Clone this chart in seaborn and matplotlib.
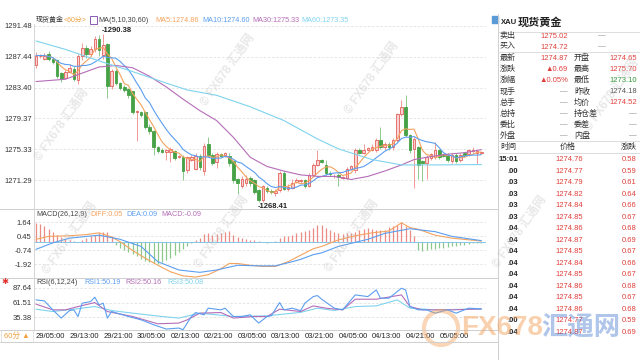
import numpy as np
import pandas as pd
import seaborn as sns
import matplotlib.pyplot as plt
from matplotlib.patches import Rectangle, Ellipse
from matplotlib.lines import Line2D

# 60 min bars of spot gold, first bar = 29/05:00
opens = [1286.3, 1287.5, 1287.2, 1287.8, 1287.1, 1287.0, 1285.3, 1284.7, 1285.5, 1285.9,
         1284.4, 1287.6, 1288.6, 1287.8, 1288.4, 1289.7, 1287.7, 1289.1, 1283.6, 1285.6,
         1284.0, 1283.5, 1283.2, 1282.9, 1280.2, 1280.2, 1280.2, 1278.3, 1277.7, 1275.6,
         1275.3, 1275.0, 1275.0, 1275.1, 1274.35, 1274.4, 1272.6, 1274.0, 1272.8, 1274.5,
         1272.5, 1276.0, 1274.6, 1273.7, 1274.7, 1274.6, 1274.5, 1273.8, 1271.4, 1270.5,
         1270.9, 1271.6, 1271.3, 1270.0, 1268.7, 1270.3, 1269.9, 1269.6, 1270.0, 1272.3,
         1270.1, 1270.3, 1271.1, 1271.2, 1271.3, 1270.6, 1272.0, 1273.3, 1273.9, 1273.3,
         1272.3, 1271.8, 1272.0, 1271.6, 1271.6, 1272.8, 1272.6, 1275.3, 1274.9, 1275.3,
         1275.3, 1275.2, 1276.5, 1275.6, 1276.0, 1275.6, 1276.5, 1279.9, 1280.9, 1277.2,
         1275.4, 1275.6, 1273.8, 1273.6, 1274.2, 1274.3, 1275.2, 1274.7, 1274.6, 1273.8,
         1274.6, 1273.9, 1274.8, 1274.7, 1275.1, 1274.9, 1274.85]
highs = [1288.0, 1287.8, 1287.9, 1288.2, 1287.3, 1287.1, 1285.5, 1285.7, 1286.5, 1286.2,
         1287.8, 1289.3, 1289.0, 1288.9, 1290.1, 1290.3, 1290.38, 1289.3, 1285.9, 1285.8,
         1284.2, 1283.7, 1283.4, 1283.0, 1280.5, 1280.4, 1280.4, 1278.7, 1277.9, 1275.8,
         1275.5, 1275.4, 1275.6, 1275.3, 1274.6, 1274.6, 1274.5, 1274.6, 1274.8, 1274.7,
         1276.2, 1277.0, 1274.8, 1275.0, 1274.9, 1275.0, 1274.8, 1274.0, 1271.6, 1271.8,
         1272.0, 1271.8, 1271.5, 1270.2, 1270.7, 1270.5, 1270.1, 1270.2, 1272.5, 1272.5,
         1270.8, 1271.4, 1271.6, 1271.5, 1271.5, 1272.2, 1273.6, 1275.2, 1274.1, 1273.9,
         1272.5, 1272.1, 1272.2, 1271.9, 1273.0, 1273.3, 1275.5, 1275.5, 1276.0, 1275.7,
         1276.1, 1276.8, 1278.3, 1276.3, 1276.3, 1276.8, 1280.1, 1281.8, 1282.4, 1277.4,
         1276.9, 1275.8, 1274.0, 1274.6, 1274.9, 1276.3, 1275.4, 1274.9, 1274.8, 1274.8,
         1274.8, 1274.8, 1275.0, 1275.4, 1275.6, 1275.3, 1275.0]
lows = [1286.0, 1287.3, 1287.0, 1286.9, 1286.5, 1284.6, 1284.1, 1284.5, 1285.3, 1284.3,
        1283.9, 1287.0, 1287.3, 1287.5, 1288.0, 1287.5, 1287.2, 1282.0, 1283.2, 1283.8,
        1283.1, 1282.8, 1282.1, 1280.0, 1276.4, 1279.5, 1278.0, 1277.4, 1274.6, 1274.8,
        1274.8, 1274.0, 1273.7, 1274.0, 1274.2, 1271.3, 1272.3, 1273.8, 1272.6, 1272.7,
        1272.0, 1274.3, 1273.3, 1272.9, 1274.3, 1274.4, 1273.2, 1271.0, 1269.5, 1270.3,
        1270.6, 1270.6, 1269.5, 1268.41, 1268.5, 1269.6, 1269.5, 1269.3, 1269.8, 1270.0,
        1269.9, 1270.1, 1270.9, 1271.0, 1270.3, 1270.4, 1271.8, 1273.1, 1273.5, 1272.0,
        1271.9, 1271.6, 1270.6, 1271.4, 1271.4, 1272.6, 1272.3, 1274.7, 1274.7, 1275.1,
        1275.1, 1275.0, 1275.4, 1275.3, 1275.3, 1275.2, 1276.3, 1279.7, 1277.0, 1274.9,
        1270.3, 1271.4, 1271.2, 1271.5, 1274.0, 1274.1, 1274.1, 1274.3, 1273.7, 1273.6,
        1273.6, 1273.7, 1274.4, 1274.5, 1274.9, 1273.4, 1274.7]
closes = [1287.6, 1287.6, 1287.6, 1287.1, 1286.7, 1284.9, 1284.5, 1285.5, 1286.0, 1284.5,
          1287.5, 1288.6, 1287.8, 1288.4, 1289.7, 1288.3, 1289.0, 1283.6, 1285.6, 1284.0,
          1283.4, 1283.1, 1282.4, 1280.2, 1280.3, 1279.8, 1278.2, 1277.7, 1275.6, 1275.1,
          1275.0, 1275.2, 1275.4, 1274.2, 1274.45, 1272.5, 1274.3, 1274.4, 1274.5, 1273.0,
          1275.8, 1274.6, 1273.6, 1274.7, 1274.5, 1274.8, 1273.5, 1271.3, 1270.9, 1271.5,
          1271.5, 1270.9, 1269.8, 1268.7, 1270.5, 1269.9, 1269.8, 1269.9, 1272.3, 1270.2,
          1270.4, 1271.0, 1271.3, 1271.3, 1270.6, 1272.0, 1273.3, 1274.0, 1273.7, 1272.2,
          1272.1, 1271.9, 1271.7, 1271.7, 1272.8, 1273.1, 1275.3, 1274.9, 1275.3, 1275.5,
          1275.7, 1276.5, 1275.6, 1276.0, 1275.6, 1276.5, 1279.9, 1280.9, 1277.2, 1275.2,
          1276.7, 1273.3, 1273.6, 1274.4, 1274.7, 1275.2, 1274.3, 1274.5, 1273.9, 1274.6,
          1273.8, 1274.6, 1274.6, 1275.2, 1275.2, 1275.1, 1274.87]

# MA30 / MA60 (history before first bar not shown)
ma30_idx = [0, 7, 11, 15, 19, 23, 27, 31, 35, 39, 43, 47, 51, 55, 59, 63, 67, 71, 75, 79, 83, 87, 90, 94, 98, 102, 106]
ma30_val = [1284.2, 1284.5, 1285.3, 1286.1, 1286.3, 1286.0, 1284.9, 1283.5, 1281.9, 1280.4, 1279.1, 1276.9, 1274.3,
            1273.1, 1272.5, 1272.0, 1271.8, 1271.8, 1271.4, 1271.8, 1272.5, 1273.3, 1274.0, 1274.4, 1274.7, 1274.9, 1275.3]
ma60_idx = [0, 7, 15, 23, 31, 36, 43, 51, 59, 67, 72, 76, 80, 87, 95, 106]
ma60_val = [1289.5, 1288.4, 1286.9, 1285.5, 1284.0, 1283.1, 1282.4, 1280.9, 1279.1, 1276.7, 1275.4, 1274.7,
            1274.0, 1273.3, 1273.3, 1273.35]

# MACD(26,12,9)
macd_hist = [1.6, 1.5, 1.35, 1.1, 0.85, 0.6, 0.4, 0.25, 0.12, 0.05,
             -0.05, 0.1, 0.3, 0.45, 0.6, 0.75, 0.85, 0.8, 0.5,
             -0.25, -0.5, -0.7, -0.85, -1.05, -1.25, -1.45, -1.6, -1.75, -1.85,
             -1.9, -1.75, -1.55, -1.35, -1.1, -0.85, -0.6, -0.4, -0.15,
             0.1, 0.35, 0.65, 0.7, 0.6, 0.65, 0.75, 0.85, 0.9, 0.6,
             0.4, 0.3, 0.2, 0.15, 0.1, 0.05, -0.05, -0.1, -0.05, 0.05,
             0.35, 0.45, 0.5, 0.6, 0.7, 0.85, 0.9, 1.0, 1.2,
             1.4, 1.4, 1.2, 1.0, 0.85, 0.7, 0.65, 0.7, 0.75, 0.85,
             1.0, 1.1, 1.15, 1.05, 1.0, 0.95, 1.0, 1.25, 1.3, 1.45,
             1.7, 1.3, 0.95, 0.5,
             -0.7, -0.75, -0.7, -0.65, -0.6, -0.55, -0.5, -0.45, -0.4, -0.35,
             -0.3, -0.25, -0.2, -0.15, -0.1, -0.1]
diff_idx = [0, 3, 8, 12, 15, 18, 20, 23, 26, 29, 32, 35, 38, 41, 44, 46, 48, 51, 54, 57, 60, 63, 66,
            68, 72, 76, 80, 84, 87, 89, 91, 95, 99, 106]
diff_val = [0.2, 0.45, 0.5, 0.6, 0.75, 0.4, 0.0, -0.75, -1.4, -2.0, -2.55, -2.9, -3.0, -2.8, -2.3, -1.85,
            -1.85, -2.0, -2.1, -2.1, -1.7, -1.15, -0.6, -0.4, 0.15, 0.5, 0.75, 0.9, 1.6, 1.2, 1.05, 0.55, 0.3, 0.05]
dea_idx = [0, 4, 8, 15, 20, 25, 29, 34, 39, 43, 48, 53, 57, 61, 63, 66, 68, 72, 79, 83, 89, 95, 99, 106]
dea_val = [-0.65, -0.1, 0.3, 0.55, 0.2, -0.4, -1.7, -2.4, -2.6, -2.4, -2.0, -2.05, -2.05, -1.7, -1.5, -1.1,
           -0.95, -0.4, 0.2, 0.7, 1.1, 0.85, 0.45, 0.09]

# RSI(6,12,24)
rsi1_idx = [0, 2, 4, 6, 8, 9, 10, 11, 13, 14, 15, 16, 17, 18, 22, 25, 28, 31, 34, 35, 37, 38, 40, 41, 44, 45,
            47, 49, 51, 53, 55, 56, 58, 59, 61, 63, 64, 66, 67, 68, 71, 73, 75, 76, 79, 81, 82, 84, 87, 88,
            89, 91, 93, 95, 98, 100, 103, 106]
rsi1_val = [66.3, 64.5, 48.5, 33.8, 47.3, 48.5, 36.6, 60.4, 63.3, 71.1, 57.4, 60.4, 33.8, 45.5, 36.6, 30.7,
            21.9, 14.2, 16.0, 13.0, 36.6, 43.7, 39.6, 51.5, 48.5, 51.5, 36.6, 36.6, 39.6, 24.9, 36.6, 37.8,
            61.5, 48.5, 51.5, 47.0, 60.4, 72.2, 74.0, 67.5, 51.5, 48.5, 66.3, 75.2, 72.2, 84.1, 69.3, 69.3,
            87.1, 84.1, 54.4, 48.5, 48.5, 42.6, 48.5, 42.6, 51.5, 50.19]
rsi2_idx = [0, 4, 7, 10, 14, 17, 23, 29, 34, 36, 39, 44, 47, 52, 55, 58, 63, 66, 69, 73, 76, 81, 87, 89, 92, 99, 106]
rsi2_val = [58.7, 48.5, 48.5, 54.4, 61.5, 45.5, 36.6, 23.6, 24.9, 30.7, 42.6, 43.7, 33.8, 36.6, 36.6, 49.7,
            45.5, 55.6, 51.5, 48.5, 67.5, 67.5, 75.2, 54.4, 48.5, 48.5, 50.16]
rsi3_idx = [0, 4, 9, 14, 18, 23, 30, 34, 39, 47, 55, 63, 67, 71, 76, 81, 86, 89, 95, 106]
rsi3_val = [49.7, 45.5, 49.7, 54.4, 47.3, 42.6, 36.6, 33.8, 42.6, 36.6, 37.8, 44.0, 51.5, 47.3, 54.4, 55.6,
            66.3, 51.5, 48.5, 50.08]

date_labels = ['29/05:00', '29/13:00', '29/21:00', '30/05:00', '02/13:00', '02/21:00', '03/05:00',
               '03/13:00', '03/21:00', '04/05:00', '04/13:00', '04/21:00', '05/05:00']
price_ticks = [1291.48, 1287.44, 1283.40, 1279.37, 1275.33, 1271.29]
macd_ticks = [1.64, 0.45, -0.74, -1.92]
rsi_ticks = [87.64, 61.51, 35.38]

# quote panel
info_l = ['卖出', '买入', '最新', '涨跌', '涨幅', '现手', '总手', '总持', '委比', '外盘']
info_lv = ['1275.02', '1274.72', '1274.87', '▲0.69', '▲0.05%', '—', '—', '—', '—', '—']
info_r = ['', '', '开盘', '最高', '最低', '昨收', '均价', '持仓差', '委差', '内盘']
info_rv = ['—', '—', '1274.65', '1275.70', '1273.10', '1274.18', '1274.52', '—', '—', '—']
tick_time = ['15:01', '.00', '.03', '.03', '.03', '.03', '.04', '.04', '.04', '.04', '.04', '.04', '.04', '.04', '.00', '.04']
tick_price = ['1274.76', '1274.77', '1274.79', '1274.82', '1274.84', '1274.85', '1274.86', '1274.87',
              '1274.85', '1274.84', '1274.85', '1274.86', '1274.85', '1274.86', '1274.77', '1274.87']
tick_chg = ['0.58', '0.59', '0.61', '0.64', '0.66', '0.67', '0.68', '0.69', '0.67', '0.66', '0.67', '0.68',
            '0.67', '0.68', '0.59', '0.69']

assert len(opens) == len(highs) == len(lows) == len(closes) == len(macd_hist)

sns.set_style("white")
plt.rcParams['font.family'] = ['Liberation Sans', 'Noto Sans CJK SC', 'DejaVu Sans']
plt.rcParams['axes.unicode_minus'] = False

C_MA5, C_MA10, C_MA30, C_MA60 = '#f4a35e', '#5b9ef0', '#b56db8', '#7fd3ee'
RED, GREEN = '#e0403c', '#2f9a35'

def fx(x):
    return x / 640

def fy(y):
    return 1 - y / 360

fig = plt.figure(figsize=(6.4, 3.6), dpi=100)
L0, WD = 33.9, 452
ax = fig.add_axes([fx(L0), fy(209), WD / 640, (209 - 24) / 360])
ax2 = fig.add_axes([fx(L0), fy(278), WD / 640, (278 - 209) / 360])
ax3 = fig.add_axes([fx(L0), fy(330), WD / 640, (330 - 278) / 360])

df = pd.DataFrame({'o': opens, 'h': highs, 'l': lows, 'c': closes})
df['i'] = np.arange(len(df))
up = df.c >= df.o
body_lo = np.minimum(df.o, df.c)
body_h = np.maximum((df.c - df.o).abs(), 0.09)

# candles
ax.vlines(df.i[up], df.l[up], df.h[up], color='#ef9a96', lw=0.7, zorder=2)
ax.vlines(df.i[~up], df.l[~up], df.h[~up], color='#8cc98c', lw=0.7, zorder=2)
ax.bar(df.i[up], body_h[up], bottom=body_lo[up], width=0.62, color='#f9d3d1',
       edgecolor='#e2605b', linewidth=0.6, zorder=3)
ax.bar(df.i[~up], body_h[~up], bottom=body_lo[~up], width=0.62, color='#46a246',
       edgecolor='#46a246', linewidth=0.6, zorder=3)

# moving averages
sns.lineplot(x=df.i, y=df.c.rolling(5, min_periods=1).mean(), ax=ax, color=C_MA5, lw=0.8, zorder=4)
sns.lineplot(x=df.i, y=df.c.rolling(10, min_periods=1).mean(), ax=ax, color=C_MA10, lw=0.8, zorder=4)
sns.lineplot(x=ma30_idx, y=ma30_val, ax=ax, color=C_MA30, lw=0.8, zorder=4)
sns.lineplot(x=ma60_idx, y=ma60_val, ax=ax, color=C_MA60, lw=0.8, zorder=4)

ihi = int(np.argmax(highs))
ilo = int(np.argmin(lows))
ax.text(ihi - 0.3, highs[ihi] + 0.05, '-' + f'{highs[ihi]:.2f}', fontsize=5.5, fontweight='bold',
        color='#222', ha='left', va='bottom')
ax.text(ilo - 0.3, lows[ilo] - 0.05, '-' + f'{lows[ilo]:.2f}', fontsize=5.5, fontweight='bold',
        color='#222', ha='left', va='top')

# MACD panel
hist = np.array(macd_hist)
ax2.vlines(df.i, 0, hist, colors=np.where(hist >= 0, '#ec8a86', '#8cc88c'), lw=0.9)
ax2.axhline(0, color='#86c4e6', lw=0.7)
sns.lineplot(x=diff_idx, y=diff_val, ax=ax2, color=C_MA5, lw=0.8)
sns.lineplot(x=dea_idx, y=dea_val, ax=ax2, color=C_MA10, lw=0.8)

# RSI panel
sns.lineplot(x=rsi3_idx, y=rsi3_val, ax=ax3, color=C_MA60, lw=0.8)
sns.lineplot(x=rsi2_idx, y=rsi2_val, ax=ax3, color=C_MA30, lw=0.8)
sns.lineplot(x=rsi1_idx, y=rsi1_val, ax=ax3, color=C_MA10, lw=0.8)

for a, ticks, lim in [(ax, price_ticks, (1267.54, 1291.72)),
                      (ax2, macd_ticks, (-3.08, 2.77)),
                      (ax3, rsi_ticks, (12.5, 105.4))]:
    a.set_xlim(-0.5, 107.1)
    a.set_ylim(*lim)
    a.set_yticks(ticks)
    a.set_yticklabels([f'{t:.2f}' for t in ticks])
    a.tick_params(axis='y', length=0, labelsize=5.5, pad=1.5, colors='#333')
    a.set_xlabel('')
    a.set_ylabel('')
    for t in ticks:
        a.axhline(t, color='#e2e2e2', lw=0.6, ls=(0, (3, 2)), zorder=0)
    for s in ['top', 'right', 'bottom']:
        a.spines[s].set_visible(False)
    a.spines['left'].set_color('#cfcfcf')
    a.spines['left'].set_linewidth(0.6)
    if a is not ax3:
        a.set_xticks([])

ax3.set_xticks(range(0, 97, 8))
ax3.set_xticklabels(date_labels)
ax3.tick_params(axis='x', length=0, labelsize=5.5, pad=2.5, colors='#222')
for lab in ax3.get_xticklabels():
    lab.set_ha('left')

# panel separators
for yy in [209, 278, 330, 342]:
    fig.add_artist(Line2D([0, fx(498)], [fy(yy), fy(yy)], color='#cfcfcf', lw=0.7))
fig.add_artist(Line2D([fx(498), fx(498)], [fy(14), fy(360)], color='#cfcfcf', lw=0.7))

# panel titles
def ftxt(x, y, s, c='#333', size=5.5, **kw):
    fig.text(fx(x), fy(y), s, color=c, fontsize=size, va='center', ha=kw.pop('ha', 'left'), **kw)

ftxt(36, 20, '现货黄金', size=5)
ftxt(64, 20, '<60分>', c='#f0a040', size=5)
fig.add_artist(Rectangle((fx(90), fy(23.5)), 7 / 640, 7 / 360, fill=False, ec='#8a5ab5', lw=0.7))
ftxt(98, 20, 'MA(5,10,30,60)', c='#444', size=5.2)
ftxt(155, 20, 'MA5:1274.86', c=C_MA5, size=5.2)
ftxt(202, 20, 'MA10:1274.60', c=C_MA10, size=5.2)
ftxt(252, 20, 'MA30:1275.33', c=C_MA30, size=5.2)
ftxt(301, 20, 'MA60:1273.35', c=C_MA60, size=5.2)

ftxt(36, 215, 'MACD(26,12,9)', c='#444', size=5.2)
ftxt(90, 215, 'DIFF:0.05', c=C_MA5, size=5.2)
ftxt(126, 215, 'DEA:0.09', c=C_MA10, size=5.2)
ftxt(161, 215, 'MACD:-0.09', c=C_MA30, size=5.2)

ftxt(5, 282.5, '✱', c='#e03030', size=6, ha='center')
ftxt(36, 282, 'RSI(6,12,24)', c='#444', size=5.2)
ftxt(84, 282, 'RSI1:50.19', c=C_MA10, size=5.2)
ftxt(125, 282, 'RSI2:50.16', c=C_MA30, size=5.2)
ftxt(167, 282, 'RSI3:50.08', c=C_MA60, size=5.2)

fig.add_artist(Rectangle((fx(1), fy(342)), 32 / 640, 12 / 360, fill=False, ec='#dddddd', lw=0.6))
ftxt(17, 336, '60分 ▲', c='#f0a040', size=5.5, ha='center')

# quote panel
fig.add_artist(Rectangle((fx(492), fy(22.5)), 6 / 640, 6 / 360, fc='#5b9bd5', ec='#5b9bd5'))
ftxt(501, 22, 'XAU', c='#222', size=5.5, fontweight='bold')
ftxt(518, 22, '现货黄金', c='#222', size=8, fontweight='bold')
for yy in [31.5, 52, 141, 153]:
    fig.add_artist(Line2D([fx(498), 1], [fy(yy), fy(yy)], color='#d8d8d8', lw=0.6))
for k in range(len(info_l)):
    yy = 36 + 11.1 * k
    ftxt(500, yy, info_l[k], c='#333', size=5.8)
    v = info_lv[k]
    ftxt(568, yy, v, c='#888' if v == '—' else RED, ha='right')
    if info_r[k]:
        ftxt(574, yy, info_r[k], c='#333', size=5.8)
        v2 = info_rv[k]
        col = '#888' if v2 == '—' else (GREEN if k == 4 else ('#555' if k == 5 else RED))
        ftxt(637, yy, v2, c=col, ha='right')
    else:
        ftxt(602, yy, info_rv[k], c='#888', ha='center')
ftxt(500, 147, '时间', size=5.8)
ftxt(560, 147, '价格', size=5.8)
ftxt(637, 147, '涨跌', size=5.8, ha='right')
for k in range(len(tick_time)):
    yy = 159.5 + 11.53 * k
    ftxt(518, yy, tick_time[k], c='#222', ha='right', fontweight='bold')
    ftxt(583, yy, tick_price[k], c=RED, ha='right')
    ftxt(637, yy, tick_chg[k], c=RED, ha='right')

# watermarks
for (wx, wy) in [(62, 125), (228, 70), (372, 78), (612, 95), (70, 238), (222, 232), (352, 236),
                 (520, 232)]:
    fig.text(fx(wx), fy(wy), '© FX678 汇通网', fontsize=8.5, color='#bdbdbd', alpha=0.35,
             rotation=55, ha='center', va='center', fontweight='bold')
fig.add_artist(Ellipse((fx(441), fy(328)), 34 / 640, 34 / 360, fill=False, ec='#f4a35e', lw=3, alpha=0.45))
fig.text(fx(461), fy(328), 'FX678', fontsize=20, fontweight='bold', color='#f4a35e', alpha=0.5,
         va='center', ha='left')
fig.text(fx(541), fy(328), '汇通网', fontsize=19, fontweight='bold', color='#4f7fd0', alpha=0.45,
         va='center', ha='left')

fig.savefig('out.png', dpi=100)
